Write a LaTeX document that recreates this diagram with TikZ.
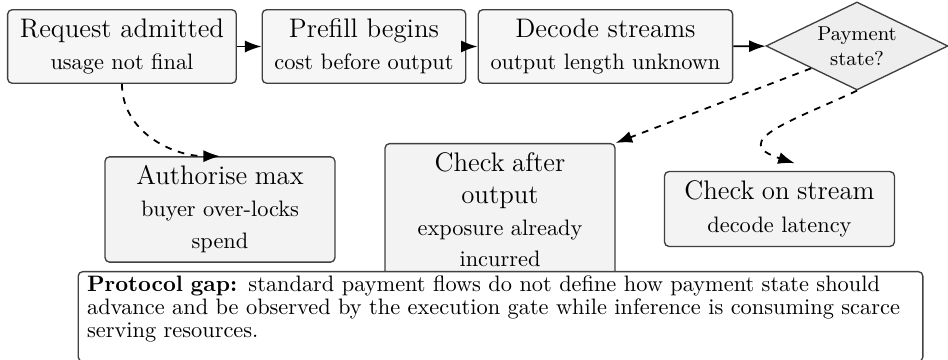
\documentclass[tikz,border=0pt]{standalone}
\usepackage{xcolor}
\usetikzlibrary{positioning,arrows.meta,calc,shapes.geometric}
\definecolor{edgegray}{RGB}{64,64,64}
\definecolor{softgray}{RGB}{246,246,246}
\definecolor{lowgray}{RGB}{243,243,243}
\definecolor{diagray}{RGB}{238,238,238}
\begin{document}
\begin{tikzpicture}[
 box/.style={rounded corners=2pt,draw=edgegray,semithick,fill=softgray,minimum height=1.148cm,align=center,inner xsep=5.5pt,inner ysep=4pt},
 lowbox/.style={box,fill=lowgray,text width=3.2cm,minimum width=3.616cm},
 arr/.style={-{Latex[length=2.6mm,width=1.9mm]},thick},
 darr/.style={arr,dashed}]
\useasboundingbox (0,0) rectangle (14.906,-5.660);
\node[box] (req) at (1.918,-.731) {{\large Request admitted}\\[2.5pt]usage not final};
\node[box] (pre) at (5.723,-.731) {{\large Prefill begins}\\[2.5pt]cost before output};
\node[box] (dec) at (9.520,-.731) {{\large Decode streams}\\[2.5pt]output length unknown};
\node[diamond,draw=edgegray,semithick,fill=diagray,aspect=2.07,inner sep=0pt,minimum width=2.862cm,minimum height=1.384cm,align=center,font=\small] (pay) at (13.475,-.723) {Payment\\state?};
\draw[arr](req)--(pre);\draw[arr](pre)--(dec);\draw[arr](dec)--(pay);
\node[lowbox,minimum height=1.651cm] (auth) at (3.459,-3.294) {{\large Authorise max}\\[2.3pt]buyer over-locks\\[2.3pt]spend};
\node[lowbox,anchor=north] (after) at (7.862,-2.248) {{\large Check after}\\[2.3pt]{\large output}\\[2.3pt]exposure already\\[1.8pt]incurred};
\node[lowbox,minimum height=1.163cm] (stream) at (12.256,-3.286) {{\large Check on stream}\\[3pt]decode latency};
\coordinate (streamin) at ($(stream.north)+(.24,.12)$);
\draw[darr](req.south) to[out=-90,in=180] (auth.north);
\draw[darr](pay.south west)--(after.north east);
\draw[darr](pay.south) to[out=-155,in=162,looseness=1.9] (streamin);
% footer note, drawn last so it covers the box above
\node[box,fill=white,anchor=north,minimum height=0pt,text width=13.0cm,align=left,inner xsep=4pt,inner ysep=1.8pt,text depth=29.5pt,font=\fontsize{10}{10.4}\selectfont] (gap) at (7.870,-4.261) {\textbf{Protocol gap:} standard payment flows do not define how payment state should\\advance and be observed by the execution gate while inference is consuming scarce\\serving resources.};
\end{tikzpicture}
\end{document}
